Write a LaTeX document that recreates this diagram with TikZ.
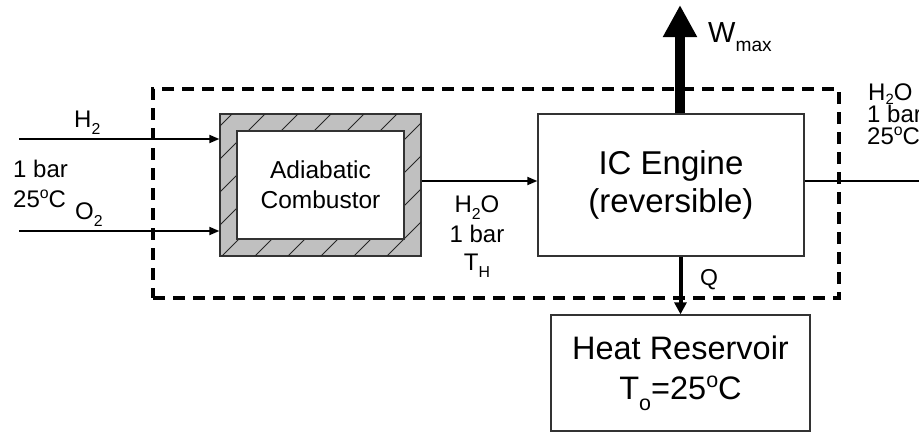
\documentclass[tikz,border=0pt]{standalone}
\usepackage{fontspec}
\setmainfont{Liberation Sans}
\usetikzlibrary{arrows.meta,calc}
\definecolor{hatchgray}{HTML}{C0C0C0}
\newcommand\lowsub[1]{\raisebox{-0.33em}{\fontsize{0.66em}{1em}\selectfont #1}}
\newcommand\lowsubb[1]{\raisebox{-0.2em}{\fontsize{0.62em}{1em}\selectfont #1}}
\newcommand\highsup[1]{\raisebox{0.36em}{\fontsize{0.66em}{1em}\selectfont #1}}
\begin{document}
\begin{tikzpicture}[x=1pt,y=-1pt,
  box/.style={draw=black!80, line width=1.3pt, rectangle, inner sep=0pt, align=center},
  flow/.style={line width=1.8pt, -{Triangle[length=10pt,width=8pt]}},
  lbl/.style={inner sep=0pt, font=\fontsize{24}{28}\selectfont},
]
\useasboundingbox (0,0) rectangle (919,432);

% system boundary
\node[rectangle, draw=black, line width=4pt, dash pattern=on 12pt off 8pt,
      minimum width=686pt, minimum height=209pt, inner sep=0pt] (sys) at (496,193.5) {};

% combustor with insulation
\node[box, fill=hatchgray, minimum width=201pt, minimum height=142pt] (combo) at (320.5,185) {};
\begin{scope}
  \clip (combo.south west) rectangle (combo.north east);
  \foreach \c in {346,379,...,676} \draw[line width=1pt, black!85] (\c-300,300) -- (\c,0);
\end{scope}
\draw[box] (combo.south west) rectangle (combo.north east);
\node[box, fill=white, minimum width=167pt, minimum height=108pt,
      font=\fontsize{24.5}{30}\selectfont] (comb) at (320.5,185) {Adiabatic\\Combustor};

% engine and reservoir
\node[box, minimum width=266pt, minimum height=142pt,
      font=\fontsize{33}{38}\selectfont] (eng) at (671,185) {IC Engine\\(reversible)};
\node[box, minimum width=259pt, minimum height=116pt,
      font=\fontsize{32.5}{40}\selectfont] (res) at (680.5,373) {Heat Reservoir\\T\lowsub{o}=25\highsup{o}C};

% flows
\coordinate (h2in) at (19,139);
\coordinate (o2in) at (19,231);
\coordinate (midy) at (0,181);
\coordinate (outend) at (919,181);
\coordinate (wtop) at (680,5);
\draw[flow] (h2in) -- (h2in -| combo.west);
\draw[flow] (o2in) -- (o2in -| combo.west);
\draw[flow] (midy -| combo.east) -- (midy -| eng.west);
\draw[line width=1.8pt] (midy -| eng.east) -- (outend);
\draw[line width=4pt, -{Triangle[length=12pt,width=12pt]}] (res.north |- eng.south) -- (res.north);
\draw[line width=10pt, -{Triangle[length=32pt,width=32pt]}] (wtop |- eng.north) -- (wtop);

% labels
\node[lbl, anchor=base west] (h2) at (74,127) {H\lowsub{2}};
\node[lbl, anchor=base west] (p1) at (13,177) {1 bar};
\node[lbl, anchor=base west] (t1) at (13,207) {25\highsup{o}C};
\node[lbl, anchor=base west] (o2) at (75,219) {O\lowsub{2}};
\node[lbl, anchor=base] (mh2o) at (477,212) {H\lowsub{2}O};
\node[lbl, anchor=base] (mp) at (477,242) {1 bar};
\node[lbl, anchor=base] (mt) at (477,270) {T\lowsub{H}};
\node[lbl, anchor=base west] (rh2o) at (868,100) {H\lowsubb{2}O};
\node[lbl, anchor=base west] (rp) at (867,122) {1 bar};
\node[lbl, anchor=base west] (rt) at (867,144) {25\highsup{o}C};
\node[inner sep=0pt, anchor=base west, font=\fontsize{29}{32}\selectfont] (w) at (708,42) {W\lowsub{max}};
\node[inner sep=0pt, anchor=base west, font=\fontsize{23}{26}\selectfont] (q) at (700,285) {Q};
\end{tikzpicture}
\end{document}
